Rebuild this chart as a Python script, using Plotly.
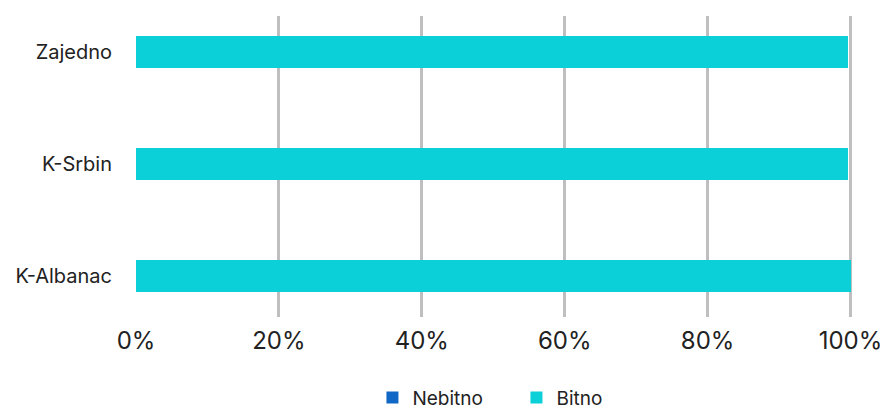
import plotly.graph_objects as go

categories = ["K-Albanac", "K-Srbin", "Zajedno"]
nebitno = [0.0, 0.0, 0.0]
bitno = [100.0, 99.7, 99.7]
x_ticks = [0, 20, 40, 60, 80, 100]
x_tick_labels = ["0%", "20%", "40%", "60%", "80%", "100%"]

FONT = "Inter, Lato, sans-serif"

fig = go.Figure()
fig.add_trace(go.Bar(y=categories, x=nebitno, name="Nebitno", orientation="h",
                     marker=dict(color="#1167C5", line=dict(width=0))))
fig.add_trace(go.Bar(y=categories, x=bitno, name="Bitno", orientation="h",
                     marker=dict(color="#0CD0D8", line=dict(width=0))))

fig.update_layout(
    width=880, height=402,
    barmode="stack",
    bargap=0.714,
    plot_bgcolor="white", paper_bgcolor="white",
    margin=dict(l=127, r=36, t=8, b=93, autoexpand=False),
    font=dict(family=FONT, color="#222222"),
    legend=dict(orientation="h", x=0.532, xanchor="center", y=-0.268, yanchor="middle",
                font=dict(size=19, color="#222222"), traceorder="normal",
                itemwidth=30, entrywidth=99, entrywidthmode="pixels"),
    xaxis=dict(range=[-0.14, 100.21], tickvals=x_ticks, ticktext=x_tick_labels,
               showgrid=True, gridcolor="#BFBFBF", gridwidth=2.5,
               zeroline=False, showline=False, automargin=False,
               ticks="outside", ticklen=2, tickcolor="rgba(0,0,0,0)",
               tickfont=dict(size=24, color="#222222")),
    yaxis=dict(categoryorder="array", categoryarray=categories,
               range=[-0.366, 2.321], automargin=False,
               showgrid=False, zeroline=False, showline=False,
               ticks="outside", ticklen=18, tickcolor="rgba(0,0,0,0)",
               tickfont=dict(size=20, color="#222222")),
)

fig.write_html("out.html")
